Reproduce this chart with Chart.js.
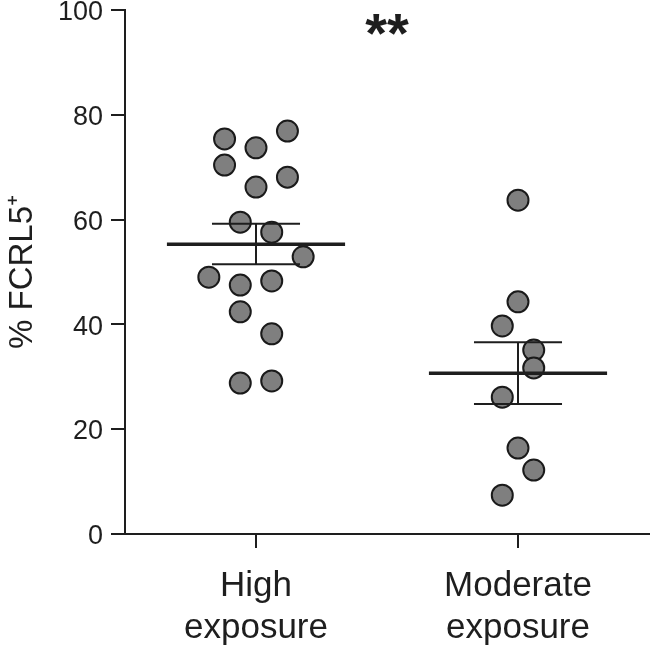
<!DOCTYPE html>
<html>
<head>
<meta charset="utf-8">
<script src="https://cdn.jsdelivr.net/npm/chart.js@4.4.1/dist/chart.umd.min.js"></script>
<style>
  html, body { margin: 0; padding: 0; background: #fff; }
  #wrap { width: 651px; height: 648px; }
</style>
</head>
<body>
<div id="wrap"><canvas id="chart" width="651" height="648"></canvas></div>
<script>
// data
const categories = [['High', 'exposure'], ['Moderate', 'exposure']];
const yTicks = [0, 20, 40, 60, 80, 100];

const highValues = [75.4, 73.7, 76.9, 70.4, 66.2, 68.1, 59.5, 57.6, 52.9, 49.0, 47.5, 48.3, 42.4, 38.2, 28.8, 29.2];
const highSlots  = [-2, 0, 2, -2, 0, 2, -1, 1, 3, -3, -1, 1, -1, 1, -1, 1];

const modValues = [63.7, 44.3, 39.7, 35.1, 31.7, 26.1, 16.4, 12.2, 7.4];
const modSlots  = [0, 0, -1, 1, 1, -1, 0, 1, -1];

const means   = [55.3, 30.7];
const semLow  = [51.5, 24.8];
const semHigh = [59.2, 36.6];
const signif  = '**';

const FONT = "'Liberation Sans', Arial, Helvetica, sans-serif";
const INK = '#1e1e1e';
const SLOT = 0.06;      // jitter step in x units
const MEAN_HALF = 0.34; // half width of mean bar
const CAP_HALF = 0.168; // half width of SEM caps

const center = i => i + 0.5;

function pointsFor(values, slots, i){
  return values.map((v, k) => ({ x: center(i) + slots[k] * SLOT, y: v }));
}

const lineSets = [];
means.forEach((m, i) => {
  const c = center(i);
  lineSets.push({ data: [{x: c - MEAN_HALF, y: m}, {x: c + MEAN_HALF, y: m}], borderWidth: 3.5 });
  lineSets.push({ data: [{x: c - CAP_HALF, y: semHigh[i]}, {x: c + CAP_HALF, y: semHigh[i]}], borderWidth: 2 });
  lineSets.push({ data: [{x: c - CAP_HALF, y: semLow[i]}, {x: c + CAP_HALF, y: semLow[i]}], borderWidth: 2 });
  lineSets.push({ data: [{x: c, y: semLow[i]}, {x: c, y: semHigh[i]}], borderWidth: 2 });
});

const datasets = [
  ...lineSets.map(s => ({
    type: 'line', data: s.data, borderColor: INK, borderWidth: s.borderWidth,
    pointRadius: 0, fill: false, order: 0, clip: false, borderCapStyle: 'butt'
  })),
  {
    type: 'scatter', data: [...pointsFor(highValues, highSlots, 0), ...pointsFor(modValues, modSlots, 1)],
    backgroundColor: '#7f7f7f', borderColor: '#1a1a1a', borderWidth: 2,
    pointRadius: 10.5, order: 1, clip: false
  }
];

// the "**" over the middle of the plot
const starsPlugin = {
  id: 'stars',
  afterDatasetsDraw(chart){
    const { ctx, scales } = chart;
    ctx.save();
    ctx.fillStyle = INK;
    ctx.font = `bold 56px ${FONT}`;
    ctx.textAlign = 'center';
    ctx.textBaseline = 'middle';
    ctx.fillText(signif, scales.x.getPixelForValue(1), scales.y.getPixelForValue(95));
    ctx.restore();
  }
};

new Chart(document.getElementById('chart'), {
  type: 'scatter',
  data: { datasets },
  plugins: [starsPlugin],
  options: {
    responsive: false,
    animation: false,
    layout: { autoPadding: false, padding: { top: 10, right: 2, left: 0, bottom: 0 } },
    plugins: { legend: { display: false }, tooltip: { enabled: false } },
    scales: {
      x: {
        type: 'linear', min: 0, max: 2,
        afterBuildTicks: s => { s.ticks = categories.map((_, i) => ({ value: center(i) })); },
        afterFit: s => { s.height = 114; s.paddingLeft = 0; s.paddingRight = 0; },
        ticks: {
          callback: v => categories[Math.round(v - 0.5)],
          color: INK, font: { family: FONT, size: 35, lineHeight: 1.2 }, padding: 17, maxRotation: 0, autoSkip: false
        },
        grid: { drawOnChartArea: false, drawTicks: true, tickLength: 14, color: INK, lineWidth: 2 },
        border: { display: true, color: INK, width: 2 }
      },
      y: {
        min: 0, max: 100,
        afterBuildTicks: s => { s.ticks = yTicks.map(v => ({ value: v })); },
        afterFit: s => { s.width = 125; s.paddingTop = 0; s.paddingBottom = 0; },
        // empty first line nudges the numbers a few px below the tick, as in the figure
        ticks: { callback: v => ['', String(v)], color: INK, font: { family: FONT, size: 27, lineHeight: 0.2 }, padding: 8 },
        grid: { drawOnChartArea: false, drawTicks: true, tickLength: 14, color: INK, lineWidth: 2 },
        border: { display: true, color: INK, width: 2 },
        title: {
          display: true, text: '% FCRL5\u207A', color: INK,
          font: { family: FONT, size: 33 }, padding: { top: 3, bottom: 0 }
        }
      }
    }
  }
});
</script>
</body>
</html>
